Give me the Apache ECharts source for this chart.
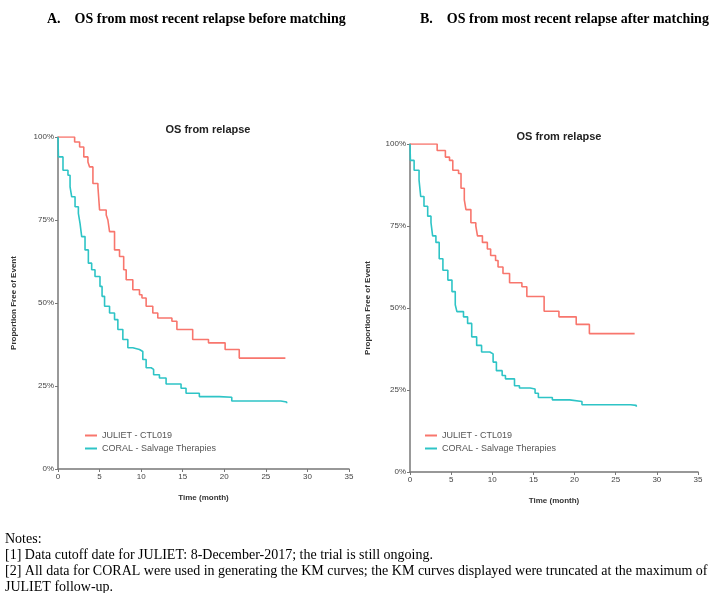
<!DOCTYPE html>
<html>
<head>
<meta charset="utf-8">
<script src="https://cdn.jsdelivr.net/npm/echarts@6/dist/echarts.min.js"></script>
<style>
  html, body { margin: 0; padding: 0; background: #fff; }
  #chart { width: 713px; height: 593px; }
</style>
</head>
<body>
<div id="chart"></div>
<script>
const seriesNames = ['JULIET - CTL019', 'CORAL - Salvage Therapies'];
const xTicks = [0, 5, 10, 15, 20, 25, 30, 35];
const yTicks = [0, 25, 50, 75, 100];

// panel A: before matching, [month, % free of event]
const julietBefore = [[0,100],[2.0,98.5],[2.6,97],[3.1,94],[3.6,92.5],[3.8,91],[4.2,86],[4.8,85],[5.0,78],[5.8,76.5],[6.0,75],[6.2,71.5],[6.8,66],[7.4,64],[7.9,60],[8.2,57],[9.0,54],[9.8,52.5],[10.1,51.5],[10.6,49],[11.4,47],[12.0,45.5],[13.7,44.5],[14.3,42],[16.2,39],[18.1,38],[20.1,36],[21.8,33.4],[27.35,33.4]];
const coralBefore = [[0,100],[0.05,94],[0.6,90],[1.2,88.5],[1.45,85],[1.65,82],[2.05,79],[2.45,77],[2.65,74],[2.85,70],[3.25,66],[3.65,62],[4.05,60],[4.45,58],[5.05,55],[5.3,52],[5.6,49],[6.2,47],[6.8,45],[7.2,42],[7.8,39],[8.4,36.5],[9.0,36],[9.8,35.4],[10.2,33],[10.6,30.5],[11.2,30],[11.5,28.4],[12.2,27.4],[13.0,25.6],[14.8,24.3],[15.4,22.8],[17.0,21.8],[19.4,21.6],[20.9,20.5],[26.8,20.2],[27.5,19.8]];

// panel B: after matching
const julietAfter = [[0,100],[3.3,98],[4.3,96],[4.8,95],[5.2,92],[5.9,91],[6.2,86.5],[6.6,83],[6.8,80],[7.4,76],[8.0,75],[8.2,72],[8.8,70],[9.4,68],[9.8,66],[10.4,64.5],[10.7,62.5],[11.3,60.5],[12.1,57.7],[13.6,56.5],[14.2,53.5],[16.3,49],[18.1,47.3],[20.2,45],[21.8,42.2],[27.3,42.2]];
const coralAfter = [[0,100],[0.05,95],[0.5,92],[1.1,89],[1.3,84],[1.7,81],[2.15,78],[2.55,76],[2.75,72],[3.15,70],[3.55,65],[4.0,61.5],[4.6,58.5],[5.1,55],[5.5,51],[5.7,48.9],[6.5,47.3],[7.0,45.3],[7.5,41.2],[8.1,38.6],[8.7,36.6],[9.7,36],[10.1,33.5],[10.5,30.9],[11.2,29.4],[11.6,28.4],[12.7,26.3],[13.3,25.6],[14.6,25.3],[15.2,24],[15.6,22.7],[17.3,22],[19.4,21.5],[20.9,20.5],[26.8,20.3],[27.5,19.9]];

const colors = ['#f8766d', '#2ec4c6'];
const axisColor = '#777';
const labelColor = '#444';
const sans = 'Arial, "Liberation Sans", sans-serif';
const serif = '"Liberation Serif", "Times New Roman", serif';

const chart = echarts.init(document.getElementById('chart'), null, { renderer: 'canvas' });

function xAxis(gridIndex) {
  return {
    type: 'value', gridIndex, min: xTicks[0], max: xTicks[xTicks.length - 1], interval: 5,
    name: 'Time (month)', nameLocation: 'middle', nameGap: 25,
    nameTextStyle: { fontFamily: sans, fontSize: 8, fontWeight: 'bold', color: '#333' },
    axisLine: { lineStyle: { color: axisColor, width: 1.5 } },
    axisTick: { length: 3, lineStyle: { color: axisColor } },
    axisLabel: { fontFamily: sans, fontSize: 8, color: labelColor, margin: 4 },
    splitLine: { show: false }
  };
}

function yAxis(gridIndex, gap) {
  return {
    type: 'value', gridIndex, min: yTicks[0], max: yTicks[yTicks.length - 1], interval: 25,
    name: 'Proportion Free of Event', nameLocation: 'middle', nameGap: gap, nameRotate: 90,
    nameTextStyle: { fontFamily: sans, fontSize: 8, fontWeight: 'bold', color: '#333' },
    axisLine: { show: true, lineStyle: { color: axisColor, width: 1.5 } },
    axisTick: { show: true, length: 3, lineStyle: { color: axisColor } },
    axisLabel: { fontFamily: sans, fontSize: 8, color: labelColor, margin: 4, formatter: '{value}%' },
    splitLine: { show: false }
  };
}

function km(name, data, idx, colorIdx) {
  return {
    name, type: 'line', step: 'end', xAxisIndex: idx, yAxisIndex: idx,
    data, symbol: 'none', showSymbol: false,
    lineStyle: { width: 1.6, color: colors[colorIdx] },
    itemStyle: { color: colors[colorIdx] },
    animation: false
  };
}

function legend(left) {
  return {
    data: seriesNames, orient: 'vertical', left, top: 426, itemGap: 4,
    icon: 'rect', itemWidth: 12, itemHeight: 2,
    textStyle: { fontFamily: sans, fontSize: 9, color: '#555' },
    selectedMode: false
  };
}

chart.setOption({
  backgroundColor: '#fff',
  animation: false,
  title: [
    { text: 'OS from relapse', left: 203, top: 119, textAlign: 'center',
      textStyle: { fontFamily: sans, fontSize: 11, fontWeight: 'bold', color: '#222' } },
    { text: 'OS from relapse', left: 554, top: 126, textAlign: 'center',
      textStyle: { fontFamily: sans, fontSize: 11, fontWeight: 'bold', color: '#222' } }
  ],
  graphic: [
    { type: 'text', left: 47, top: 12,
      style: { text: 'A.    OS from most recent relapse before matching', font: 'bold 14px ' + serif, fill: '#000' } },
    { type: 'text', left: 420, top: 12,
      style: { text: 'B.    OS from most recent relapse after matching', font: 'bold 14px ' + serif, fill: '#000' } },
    { type: 'text', left: 5, top: 532,
      style: { text: 'Notes:', font: '14px ' + serif, fill: '#000' } },
    { type: 'text', left: 5, top: 548,
      style: { text: '[1] Data cutoff date for JULIET: 8-December-2017; the trial is still ongoing.', font: '14px ' + serif, fill: '#000' } },
    { type: 'text', left: 5, top: 564,
      style: { text: '[2] All data for CORAL were used in generating the KM curves; the KM curves displayed were truncated at the maximum of', font: '14px ' + serif, fill: '#000' } },
    { type: 'text', left: 5, top: 580,
      style: { text: 'JULIET follow-up.', font: '14px ' + serif, fill: '#000' } }
  ],
  legend: [legend(80), legend(420)],
  grid: [
    { left: 58, right: 364, top: 137, bottom: 124 },
    { left: 410, right: 15, top: 144, bottom: 121 }
  ],
  xAxis: [xAxis(0), xAxis(1)],
  yAxis: [yAxis(0, 40), yAxis(1, 38)],
  series: [
    km(seriesNames[0], julietBefore, 0, 0),
    km(seriesNames[1], coralBefore, 0, 1),
    km(seriesNames[0], julietAfter, 1, 0),
    km(seriesNames[1], coralAfter, 1, 1)
  ]
});

window.addEventListener('resize', () => chart.resize());
</script>
</body>
</html>
